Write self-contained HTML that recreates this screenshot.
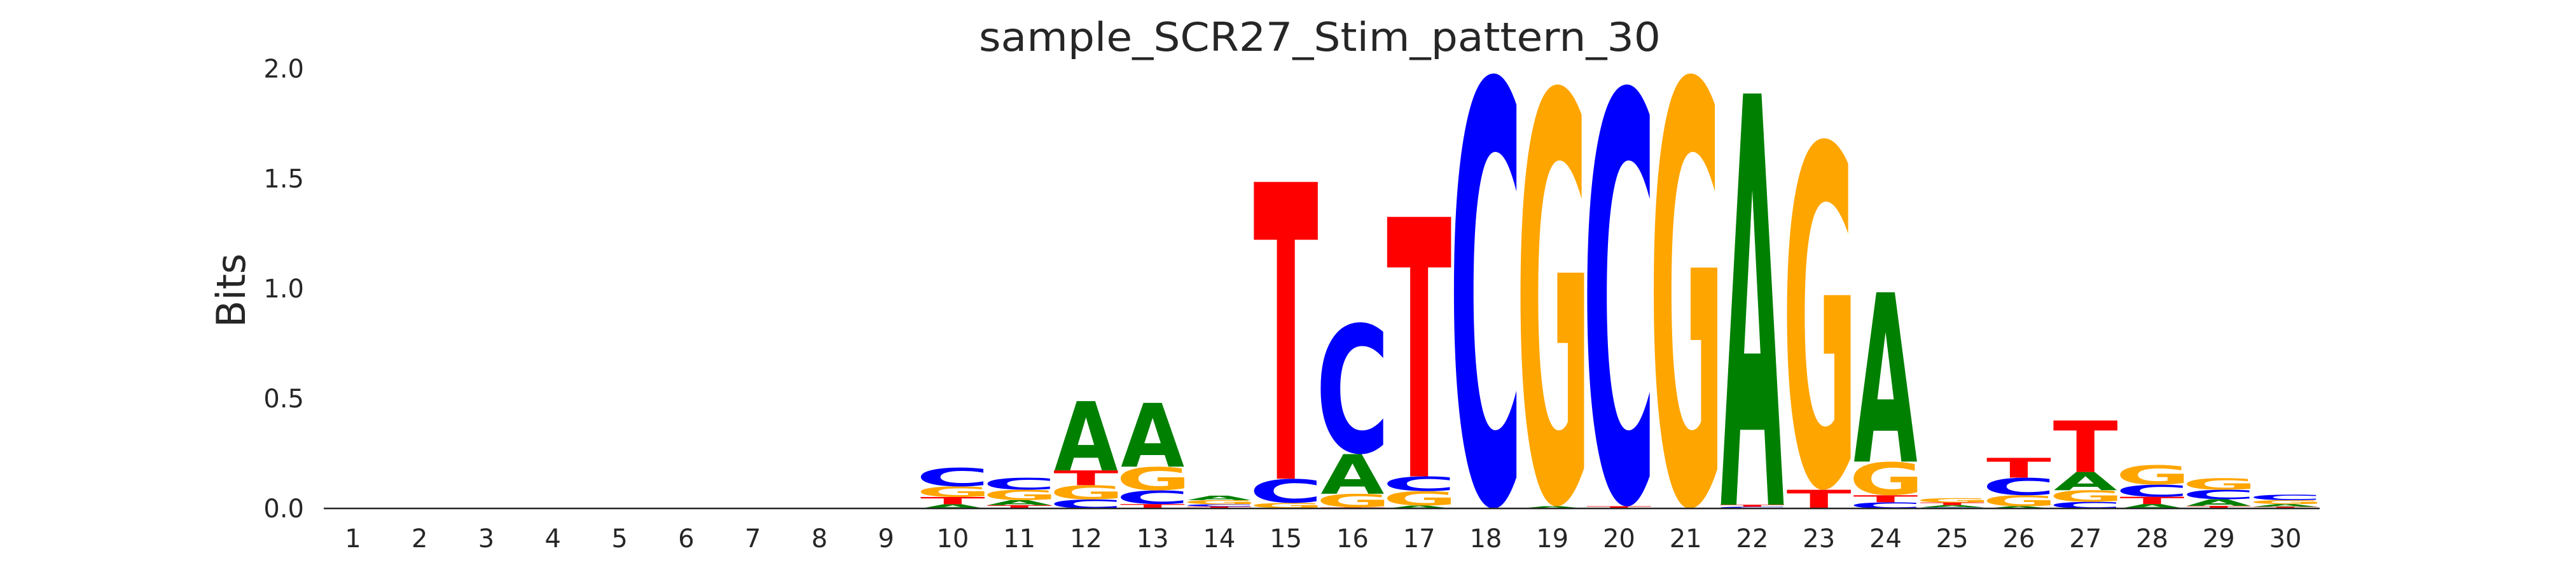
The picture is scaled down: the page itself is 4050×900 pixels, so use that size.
<!DOCTYPE html>
<html><head><meta charset="utf-8"><style>
html,body{margin:0;padding:0;background:#fff;overflow:hidden;width:4050px;height:900px;}
svg{display:block;}
text{font-family:"DejaVu Sans","Liberation Sans",sans-serif;}
</style></head><body>
<svg id="chart" width="4050" height="900" viewBox="0 0 4050 900" xmlns="http://www.w3.org/2000/svg" overflow="hidden">
<defs><clipPath id="plotclip"><rect x="0" y="0" width="4050" height="801"/></clipPath></defs>
<text x="2075" y="80" font-size="62" fill="#262626" text-anchor="middle" textLength="1072" lengthAdjust="spacingAndGlyphs">sample_SCR27_Stim_pattern_30</text>
<text transform="translate(385,457) rotate(-90)" font-size="62" fill="#262626" text-anchor="middle">Bits</text>
<g id="yticks"></g>
<g id="xticks"></g>
<g id="glyphs" clip-path="url(#plotclip)"></g>
<line x1="509" y1="800" x2="3647" y2="800" stroke="#262626" stroke-width="2.5"/>
</svg>
<script>
const positions = [1,2,3,4,5,6,7,8,9,10,11,12,13,14,15,16,17,18,19,20,21,22,23,24,25,26,27,28,29,30];
const valsA = [0,0,0,0,0,0,0,0,0,0.019,0.023,0.315,0.29,0.02,0.002,0.18,0.013,0,0.01,0,0,1.87,0,0.77,0.01,0.01,0.083,0.02,0.03,0.012];
const valsC = [0,0,0,0,0,0,0,0,0,0.086,0.055,0.041,0.062,0.01,0.11,0.6,0.067,1.98,0,1.92,0,0.008,0,0.028,0.005,0.08,0.03,0.055,0.043,0.025];
const valsG = [0,0,0,0,0,0,0,0,0,0.048,0.047,0.065,0.108,0.019,0.023,0.062,0.066,0,1.92,0,1.98,0,1.6,0.153,0.02,0.05,0.053,0.09,0.053,0.018];
const valsT = [0,0,0,0,0,0,0,0,0,0.033,0.015,0.067,0.02,0.009,1.35,0.005,1.18,0,0,0.01,0,0.009,0.085,0.032,0.012,0.09,0.234,0.033,0.012,0.008];
const yTickVals = [0,0.5,1,1.5,2];
const yTickLabels = ["0.0","0.5","1.0","1.5","2.0"];

const NS = "http://www.w3.org/2000/svg";
const X0 = 555, DX = 104.76, Y0 = 800, PXB = 346;
function xScale(p){ return X0 + (p-1)*DX; }
function yScale(v){ return Y0 - v*PXB; }
const colors = {A:"#008000",C:"#0000ff",G:"#ffa500",T:"#ff0000"};
const inkW = {A:1.0,C:0.86,G:0.85,T:0.98};
const inkL = {A:0.0,C:0.068,G:0.062,T:0.01};
const over = {A:0,C:1.4,G:1.4,T:0};

const yt = document.getElementById('yticks');
yTickVals.forEach((v,i)=>{
  const t = document.createElementNS(NS,'text');
  
  
  t.setAttribute('x', 478); t.setAttribute('y', yScale(v)+14);
  t.setAttribute('font-size', 40); t.setAttribute('fill', '#262626');
  t.setAttribute('text-anchor', 'end');
  t.textContent = yTickLabels[i];
  yt.appendChild(t);
});
const xt = document.getElementById('xticks');
positions.forEach(p=>{
  const t = document.createElementNS(NS,'text');
  
  
  t.setAttribute('x', xScale(p)); t.setAttribute('y', 861);
  t.setAttribute('font-size', 40); t.setAttribute('fill', '#262626');
  t.setAttribute('text-anchor', 'middle');
  t.textContent = String(p);
  xt.appendChild(t);
});
const gg = document.getElementById('glyphs');
const W = 100;
positions.forEach((p,i)=>{
  const items = [['A',valsA[i]],['C',valsC[i]],['G',valsG[i]],['T',valsT[i]]]
    .filter(d=>d[1]>0).sort((a,b)=>a[1]-b[1]);
  let cum = 0;
  items.forEach(([L,v])=>{
    const yb = yScale(cum), h = v*PXB;
    cum += v;
    const TL = W/inkW[L];
    const inkH = 72.9 + 2*over[L];
    const sy = h/inkH;
    const t = document.createElementNS(NS,'text');
    
    
    t.setAttribute('x', xScale(p)-W/2 - inkL[L]*TL); t.setAttribute('y', -over[L]);
    t.setAttribute('font-size', 100); t.setAttribute('font-weight', 'bold');
    t.setAttribute('fill', colors[L]);
    t.setAttribute('textLength', TL); t.setAttribute('lengthAdjust', 'spacingAndGlyphs');
    t.setAttribute('transform', 'translate(0,'+yb+') scale(1,'+sy+')');
    t.textContent = L;
    gg.appendChild(t);
  });
});
</script>
</body></html>
